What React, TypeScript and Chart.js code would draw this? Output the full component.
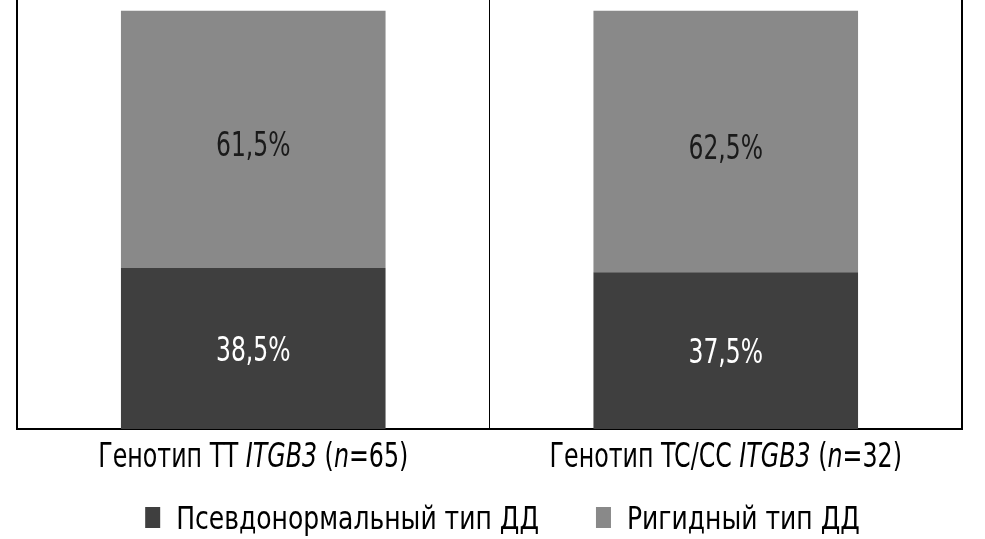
import { useEffect, useRef } from 'react';
import { Chart, registerables } from 'chart.js';

Chart.register(...registerables);

const categories = ['Генотип TT ITGB3 (n=65)', 'Генотип TC/CC ITGB3 (n=32)'];
// [text, italic]
const categoryLabelParts: [string, boolean][][] = [
  [['Генотип TT ', false], ['ITGB3', true], [' (', false], ['n', true], ['=65)', false]],
  [['Генотип TC/CC ', false], ['ITGB3', true], [' (', false], ['n', true], ['=32)', false]],
];
const seriesNames = ['Псевдонормальный тип ДД', 'Ригидный тип ДД'];
const pseudonormalValues = [38.5, 37.5];
const rigidValues = [61.5, 62.5];

const seriesColors = ['#3f3f3f', '#898989'];
const valueLabelColors = ['#ffffff', '#1a1a1a'];
const valueLabelShift = [0, 5];

const FONT = '"DejaVu Sans Condensed", "DejaVu Sans", sans-serif';

const formatPct = (v: number) => v.toFixed(1).replace('.', ',') + '%';

function drawCondensed(
  ctx: CanvasRenderingContext2D,
  text: string,
  x: number,
  y: number,
  sx: number,
  align: CanvasTextAlign,
) {
  ctx.save();
  ctx.translate(x, y);
  ctx.scale(sx, 1);
  ctx.textAlign = align;
  ctx.fillText(text, 0, 0);
  ctx.restore();
}

const valueLabelsPlugin = {
  id: 'valueLabels',
  afterDatasetsDraw(chart: any) {
    const ctx = chart.ctx as CanvasRenderingContext2D;
    const size = 33;
    ctx.save();
    ctx.font = `${size}px ${FONT}`;
    ctx.textBaseline = 'alphabetic';
    chart.data.datasets.forEach((ds: any, di: number) => {
      const meta = chart.getDatasetMeta(di);
      meta.data.forEach((bar: any, i: number) => {
        const { x, y, base } = bar.getProps(['x', 'y', 'base'], true);
        ctx.fillStyle = valueLabelColors[di];
        drawCondensed(
          ctx,
          formatPct(ds.data[i]),
          x,
          (y + base) / 2 + size * 0.365 + valueLabelShift[di],
          0.79,
          'center',
        );
      });
    });
    ctx.restore();
  },
};

const categoryLabelsPlugin = {
  id: 'categoryLabels',
  afterDraw(chart: any) {
    const ctx = chart.ctx as CanvasRenderingContext2D;
    const xScale = chart.scales.x;
    const size = 33;
    const sx = 0.8;
    const baseline = chart.chartArea.bottom + 38;
    ctx.save();
    ctx.fillStyle = '#000000';
    ctx.textBaseline = 'alphabetic';
    categoryLabelParts.forEach((parts, i) => {
      const fonts = parts.map(([, it]) => `${it ? 'italic ' : ''}${size}px ${FONT}`);
      let total = 0;
      const widths = parts.map(([t], k) => {
        ctx.font = fonts[k];
        const w = ctx.measureText(t).width * sx;
        total += w;
        return w;
      });
      let x = xScale.getPixelForValue(i) - total / 2;
      parts.forEach(([t], k) => {
        ctx.font = fonts[k];
        drawCondensed(ctx, t, x, baseline, sx, 'left');
        x += widths[k];
      });
    });
    ctx.restore();
  },
};

const legendPlugin = {
  id: 'customLegend',
  afterDraw(chart: any) {
    const ctx = chart.ctx as CanvasRenderingContext2D;
    const size = 32;
    const sx = 0.87;
    const boxW = 15;
    const boxH = 21;
    const gapBoxText = 16;
    const gapItems = 57;
    const baseline = chart.chartArea.bottom + 100;
    const boxTop = chart.chartArea.bottom + 78;
    ctx.save();
    ctx.font = `${size}px ${FONT}`;
    ctx.textBaseline = 'alphabetic';
    const widths = chart.data.datasets.map((ds: any) => ctx.measureText(ds.label).width * sx);
    const total =
      widths.reduce((a: number, w: number) => a + w + boxW + gapBoxText, 0) +
      gapItems * (widths.length - 1);
    const center = (chart.chartArea.left + chart.chartArea.right) / 2 + 13;
    let x = center - total / 2;
    chart.data.datasets.forEach((ds: any, di: number) => {
      ctx.fillStyle = ds.backgroundColor;
      ctx.fillRect(x, boxTop, boxW, boxH);
      x += boxW + gapBoxText;
      ctx.fillStyle = '#000000';
      drawCondensed(ctx, ds.label, x, baseline, sx, 'left');
      x += widths[di] + gapItems;
    });
    ctx.restore();
  },
};

export default function App() {
  const canvasRef = useRef<HTMLCanvasElement | null>(null);

  useEffect(() => {
    if (!canvasRef.current) return;
    const chart = new Chart(canvasRef.current, {
      type: 'bar',
      data: {
        labels: categories,
        datasets: [
          {
            label: seriesNames[0],
            data: pseudonormalValues,
            backgroundColor: seriesColors[0],
            borderWidth: 0,
          },
          {
            label: seriesNames[1],
            data: rigidValues,
            backgroundColor: seriesColors[1],
            borderWidth: 0,
          },
        ],
      },
      options: {
        animation: false,
        responsive: true,
        maintainAspectRatio: false,
        datasets: {
          bar: {
            categoryPercentage: 1,
            barPercentage: 0.56,
          },
        },
        layout: {
          padding: { left: 17, right: 23, top: 0, bottom: 92 },
        },
        scales: {
          x: {
            stacked: true,
            grid: {
              display: true,
              offset: true,
              color: '#000000',
              lineWidth: (ctx: any) => (ctx.index === 1 ? 1 : 2),
              drawTicks: true,
              tickLength: 18,
              tickColor: 'rgba(0,0,0,0)',
            },
            border: { display: true, color: '#000000', width: 2 },
            ticks: { display: false },
          },
          y: {
            stacked: true,
            display: false,
            min: 0,
            max: 102.6,
          },
        },
        plugins: {
          legend: { display: false },
          tooltip: { enabled: false },
        },
      },
      plugins: [valueLabelsPlugin, categoryLabelsPlugin, legendPlugin],
    });
    return () => chart.destroy();
  }, []);

  return (
    <div style={{ position: 'absolute', left: 0, top: 0, width: 985, height: 539, background: '#ffffff' }}>
      <canvas ref={canvasRef} />
    </div>
  );
}
